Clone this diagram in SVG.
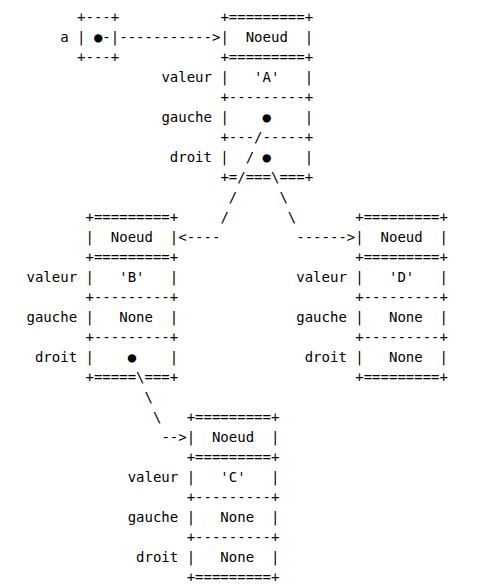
<svg xmlns="http://www.w3.org/2000/svg" width="479" height="585" viewBox="0 0 479 585" xml:space="preserve">
<style>
text { font-family: "DejaVu Sans Mono", "Liberation Mono", monospace; font-size: 14px; fill: #000; white-space: pre; }
</style>
<rect width="479" height="585" fill="#fff"/>
<g id="var-a">
<text x="77.08" y="21.5">+---+</text>
<text x="60.22" y="41.5">a | ●-|</text>
<text x="77.08" y="61.5">+---+</text>
</g>
<g id="noeud-A">
<text x="220.39" y="21.5">+=========+</text>
<text x="220.39" y="41.5">|  Noeud  |</text>
<text x="220.39" y="61.5">+=========+</text>
<text x="161.38" y="81.5">valeur |   'A'   |</text>
<text x="220.39" y="101.5">+---------+</text>
<text x="161.38" y="121.5">gauche |    ●    |</text>
<text x="220.39" y="141.5">+---/-----+</text>
<text x="169.81" y="161.5">droit |  / ●    |</text>
<text x="220.39" y="181.5">+=/===\===+</text>
</g>
<g id="noeud-B">
<text x="85.51" y="221.5">+=========+</text>
<text x="85.51" y="241.5">|  Noeud  |</text>
<text x="85.51" y="261.5">+=========+</text>
<text x="26.5" y="281.5">valeur |   'B'   |</text>
<text x="85.51" y="301.5">+---------+</text>
<text x="26.5" y="321.5">gauche |   None  |</text>
<text x="85.51" y="341.5">+---------+</text>
<text x="34.93" y="361.5">droit |    ●    |</text>
<text x="85.51" y="381.5">+=====\===+</text>
</g>
<g id="noeud-D">
<text x="355.27" y="221.5">+=========+</text>
<text x="355.27" y="241.5">|  Noeud  |</text>
<text x="355.27" y="261.5">+=========+</text>
<text x="296.26" y="281.5">valeur |   'D'   |</text>
<text x="355.27" y="301.5">+---------+</text>
<text x="296.26" y="321.5">gauche |   None  |</text>
<text x="355.27" y="341.5">+---------+</text>
<text x="304.69" y="361.5">droit |   None  |</text>
<text x="355.27" y="381.5">+=========+</text>
</g>
<g id="noeud-C">
<text x="186.67" y="421.5">+=========+</text>
<text x="186.67" y="441.5">|  Noeud  |</text>
<text x="186.67" y="461.5">+=========+</text>
<text x="127.66" y="481.5">valeur |   'C'   |</text>
<text x="186.67" y="501.5">+---------+</text>
<text x="127.66" y="521.5">gauche |   None  |</text>
<text x="186.67" y="541.5">+---------+</text>
<text x="136.09" y="561.5">droit |   None  |</text>
<text x="186.67" y="581.5">+=========+</text>
</g>
<g id="connectors">
<text x="119.23" y="41.5">-----------&gt;</text>
<text x="228.82" y="201.5">/</text>
<text x="279.4" y="201.5">\</text>
<text x="220.39" y="221.5">/</text>
<text x="287.83" y="221.5">\</text>
<text x="178.24" y="241.5">&lt;----</text>
<text x="296.26" y="241.5">------&gt;</text>
<text x="144.52" y="401.5">\</text>
<text x="152.95" y="421.5">\</text>
<text x="161.38" y="441.5">--&gt;</text>
</g>
</svg>
